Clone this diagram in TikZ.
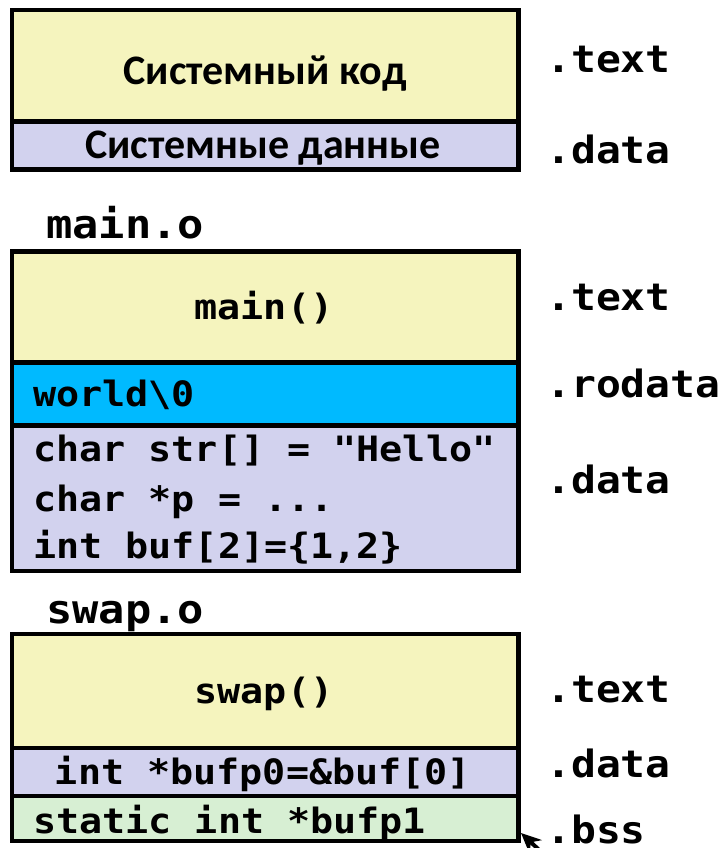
\documentclass[tikz,border=0pt]{standalone}
\usepackage{fontspec}
\newfontfamily\codefont[FakeStretch=1.1]{DejaVu Sans Mono}
\newfontfamily\cyrfont{Carlito}
\usetikzlibrary{arrows.meta}
\definecolor{secyellow}{HTML}{F5F4BE}
\definecolor{seclav}{HTML}{D2D2EE}
\definecolor{seccyan}{HTML}{00BAFF}
\definecolor{secgreen}{HTML}{D7EFD3}
\tikzset{
  sec/.style={draw=black, line width=4.5pt, rectangle, inner sep=0pt, minimum width=506.5pt},
  code/.style={inner sep=0pt, font=\codefont\bfseries\fontsize{34.9}{42}\selectfont},
  lbl/.style={inner sep=0pt, anchor=base west, font=\codefont\bfseries\fontsize{37.6}{44}\selectfont},
  objname/.style={inner sep=0pt, anchor=base west, font=\codefont\bfseries\fontsize{39.7}{46}\selectfont},
  cyr/.style={inner sep=0pt, anchor=base, font=\cyrfont\bfseries\fontsize{42}{48}\selectfont},
}
\begin{document}
\begin{tikzpicture}[x=1pt, y=-1pt]
\clip (0,0) rectangle (725,848);
\fill[white] (0,0) rectangle (725,848);

% system box
\node[sec, fill=secyellow, minimum height=111.5pt] (syscode) at (265.25,65.75) {};
\node[sec, fill=seclav, minimum height=48pt] (sysdata) at (265.25,145.5) {};
\node[cyr] (tsyscode) at (265,85) {Системный код};
\node[cyr] (tsysdata) at (263,158) {Системные данные};
\node[lbl] (l1) at (546,73) {.text};
\node[lbl] (l2) at (546,163) {.data};

% main.o
\node[objname] (mainname) at (46,238) {main.o};
\node[sec, fill=secyellow, minimum height=111pt] (maintext) at (265.25,307) {};
\node[sec, fill=seccyan, minimum height=63pt] (mainro) at (265.25,394) {};
\node[sec, fill=seclav, minimum height=145pt] (maindata) at (265.25,498.5) {};
\node[code, anchor=base] (tmain) at (264,319) {main()};
\node[code, anchor=base west] (tworld) at (33,406) {world\textbackslash 0};
\node[code, anchor=base west] (tstr) at (33,461) {char str[] = "Hello"};
\node[code, anchor=base west] (tp) at (33,511) {char *p = ...};
\node[code, anchor=base west] (tbuf) at (33,558) {int buf[2]=\{1,2\}};
\node[lbl] (l3) at (546,310) {.text};
\node[lbl] (l4) at (546,397) {.rodata};
\node[lbl] (l5) at (546,493) {.data};

% swap.o
\node[objname] (swapname) at (46,623) {swap.o};
\node[sec, fill=secyellow, minimum height=114pt] (swaptext) at (265.25,691) {};
\node[sec, fill=seclav, minimum height=48pt] (swapdata) at (265.25,772) {};
\node[sec, fill=secgreen, minimum height=45pt] (swapbss) at (265.25,818.5) {};
\node[code, anchor=base] (tswap) at (264,703) {swap()};
\node[code, anchor=base] (tbufp0) at (263,784) {int *bufp0=\&buf[0]};
\node[code, anchor=base west] (tbufp1) at (33,833) {static int *bufp1};
\node[lbl] (l6) at (546,702) {.text};
\node[lbl] (l7) at (546,777) {.data};
\node[lbl] (l8) at (546,843) {.bss};

\coordinate (arrowfrom) at (552,862);
\coordinate (arrowtip) at (521,833);
\draw[line width=4pt, -{Stealth[length=20pt,width=18pt]}] (arrowfrom) -- (arrowtip);
\end{tikzpicture}
\end{document}
